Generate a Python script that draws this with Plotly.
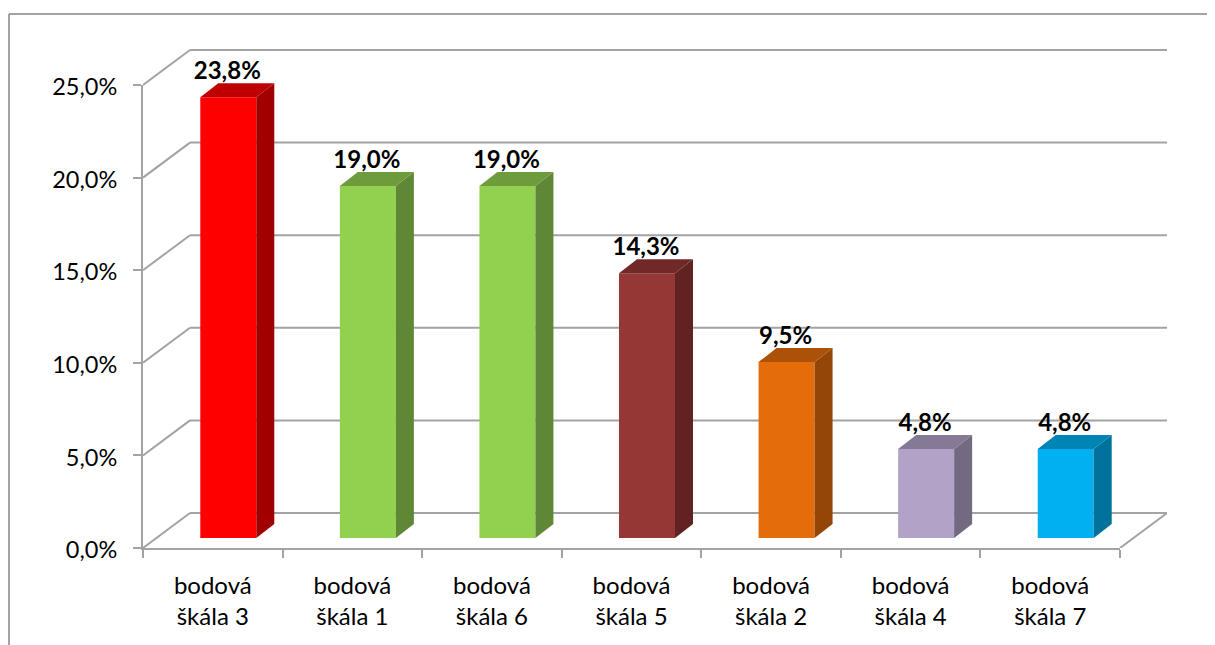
import plotly.graph_objects as go

categories = ["bodová škála 3", "bodová škála 1", "bodová škála 6", "bodová škála 5",
              "bodová škála 2", "bodová škála 4", "bodová škála 7"]
values = [23.8, 19.0, 19.0, 14.3, 9.5, 4.8, 4.8]
y_ticks = [0, 5, 10, 15, 20, 25]

front_colors = ["#FF0000", "#92D050", "#92D050", "#953735", "#E46C0A", "#B2A2C7", "#00B0F0"]
top_colors = ["#BF0000", "#6E9C3C", "#6E9C3C", "#702927", "#AB5108", "#857A95", "#0084B4"]
side_colors = ["#A00000", "#5F8735", "#5F8735", "#602322", "#934607", "#736980", "#00729C"]

PAGE = 8  # default page margin in front of the figure
W, H = 1215 - PAGE, 645 - PAGE
L, R, T, B = 143 - PAGE, 48, 49 - PAGE, 97
PLOT_W, PLOT_H = W - L - R, H - T - B
FRONT_W, FRONT_H = 977, 463
UX, UY = FRONT_W / 7, FRONT_H / 25
X2_MAX, Y2_MAX = PLOT_W / UX, PLOT_H / UY
WALL_DX, WALL_DY = 47 / UX, 35 / UY
BAR_W, BAR_SHIFT, BAR_BASE = 56 / UX, 15.5 / UX, 10 / UY
DEPTH_X, DEPTH_Y = 18 / UX, 14 / UY
LABEL_DROP = 2 / UY
FONT = "Lato, Carlito, Calibri, sans-serif"
GRID = "#A3A3A3"

n = len(values)
centers = [i + 0.5 + BAR_SHIFT for i in range(n)]
fmt = lambda v: f"{v:.1f}".replace(".", ",")

fig = go.Figure()

fig.add_trace(go.Scatter(x=[0, 7], y=[0, 25], xaxis="x", yaxis="y", mode="markers",
                         marker=dict(opacity=0), showlegend=False, hoverinfo="skip"))
fig.add_trace(go.Scatter(x=[0, 7], y=[0, 25], xaxis="x3", yaxis="y", mode="markers",
                         marker=dict(opacity=0), showlegend=False, hoverinfo="skip"))

fig.add_trace(go.Bar(x=centers, y=values, base=[BAR_BASE] * n, width=BAR_W, xaxis="x2", yaxis="y2",
                     marker=dict(color=front_colors, line=dict(width=0)),
                     showlegend=False, hoverinfo="skip"))

for c, v, tc, sc in zip(centers, values, top_colors, side_colors):
    x0, x1 = c - BAR_W / 2, c + BAR_W / 2
    y0, y1 = BAR_BASE, BAR_BASE + v
    fig.add_trace(go.Scatter(
        x=[x1, x1 + DEPTH_X, x1 + DEPTH_X, x1, x1], y=[y0, y0 + DEPTH_Y, y1 + DEPTH_Y, y1, y0],
        xaxis="x2", yaxis="y2", mode="lines", fill="toself", fillcolor=sc, line=dict(width=0),
        showlegend=False, hoverinfo="skip"))
    fig.add_trace(go.Scatter(
        x=[x0, x0 + DEPTH_X, x1 + DEPTH_X, x1, x0], y=[y1, y1 + DEPTH_Y, y1 + DEPTH_Y, y1, y1],
        xaxis="x2", yaxis="y2", mode="lines", fill="toself", fillcolor=tc, line=dict(width=0),
        showlegend=False, hoverinfo="skip"))

fig.add_trace(go.Scatter(
    x=[c - 1 / UX for c in centers], y=[BAR_BASE + v + DEPTH_Y - LABEL_DROP for v in values],
    xaxis="x2", yaxis="y2", mode="text", text=[fmt(v) + "%" for v in values],
    textposition="top center", textfont=dict(family=FONT, size=24, color="#000000", weight="bold"),
    showlegend=False, hoverinfo="skip", cliponaxis=False))

shapes = []
for t in y_ticks:
    shapes.append(dict(type="line", xref="x2", yref="y2", x0=0, y0=t, x1=WALL_DX, y1=t + WALL_DY,
                       line=dict(color=GRID, width=2), layer="below"))
    shapes.append(dict(type="line", xref="x2", yref="y2", x0=WALL_DX, y0=t + WALL_DY,
                       x1=7 + WALL_DX, y1=t + WALL_DY, line=dict(color=GRID, width=2), layer="below"))
shapes.append(dict(type="line", xref="x2", yref="y2", x0=7, y0=0, x1=7 + WALL_DX, y1=WALL_DY,
                   line=dict(color=GRID, width=2), layer="below"))
frame = dict(type="line", xref="paper", yref="paper", line=dict(color="#868686", width=1.5))
left_p, right_p = (9 - PAGE - L) / PLOT_W, (W - L) / PLOT_W
top_p, bottom_p = (H - B - (14 - PAGE)) / PLOT_H, -B / PLOT_H
shapes.append({**frame, "x0": left_p, "x1": left_p, "y0": bottom_p, "y1": top_p})
shapes.append({**frame, "x0": left_p, "x1": right_p, "y0": top_p, "y1": top_p})

tick_font = dict(family=FONT, size=24, color="#000000")
first_lines = [c.split(" ", 1)[0] for c in categories]
second_lines = [c.split(" ", 1)[1] for c in categories]
mids = [i + 0.5 for i in range(n)]
x_dom = [0, FRONT_W / PLOT_W]
y_dom = [0, FRONT_H / PLOT_H]

fig.update_layout(
    width=W, height=H, autosize=False,
    margin=dict(l=L, r=R, t=T, b=B, pad=0),
    paper_bgcolor="#FFFFFF", plot_bgcolor="rgba(0,0,0,0)",
    showlegend=False, hovermode=False, shapes=shapes,
    xaxis=dict(domain=x_dom, range=[0, 7], anchor="y", tickmode="array", tickvals=mids, ticktext=first_lines,
               ticks="", ticklen=0, showgrid=False, zeroline=False, showline=True, linecolor=GRID, linewidth=2,
               tickfont=tick_font, ticklabelstandoff=15, tickangle=0,
               minor=dict(tickmode="array", tickvals=list(range(n + 1)), ticks="outside", ticklen=8,
                          tickwidth=2, tickcolor=GRID, showgrid=False)),
    xaxis3=dict(domain=x_dom, range=[0, 7], anchor="y", overlaying="x", tickmode="array", tickvals=mids,
                ticktext=second_lines, ticks="", showgrid=False, zeroline=False, showline=False,
                tickfont=tick_font, ticklabelstandoff=52, tickangle=0, side="bottom"),
    yaxis=dict(domain=y_dom, range=[0, 25], anchor="x", tickmode="array", tickvals=y_ticks,
               ticktext=[fmt(t) + "%" for t in y_ticks], ticks="outside", ticklen=8, tickwidth=2, tickcolor=GRID,
               showgrid=False, zeroline=False, showline=True, linecolor=GRID, linewidth=2,
               tickfont=dict(family=FONT, size=23.5, color="#000000"), ticklabelstandoff=11, ticklabelshift=2),
    xaxis2=dict(domain=[0, 1], range=[0, X2_MAX], anchor="y2", visible=False),
    yaxis2=dict(domain=[0, 1], range=[0, Y2_MAX], anchor="x2", visible=False),
)
fig.write_html("out.html")
